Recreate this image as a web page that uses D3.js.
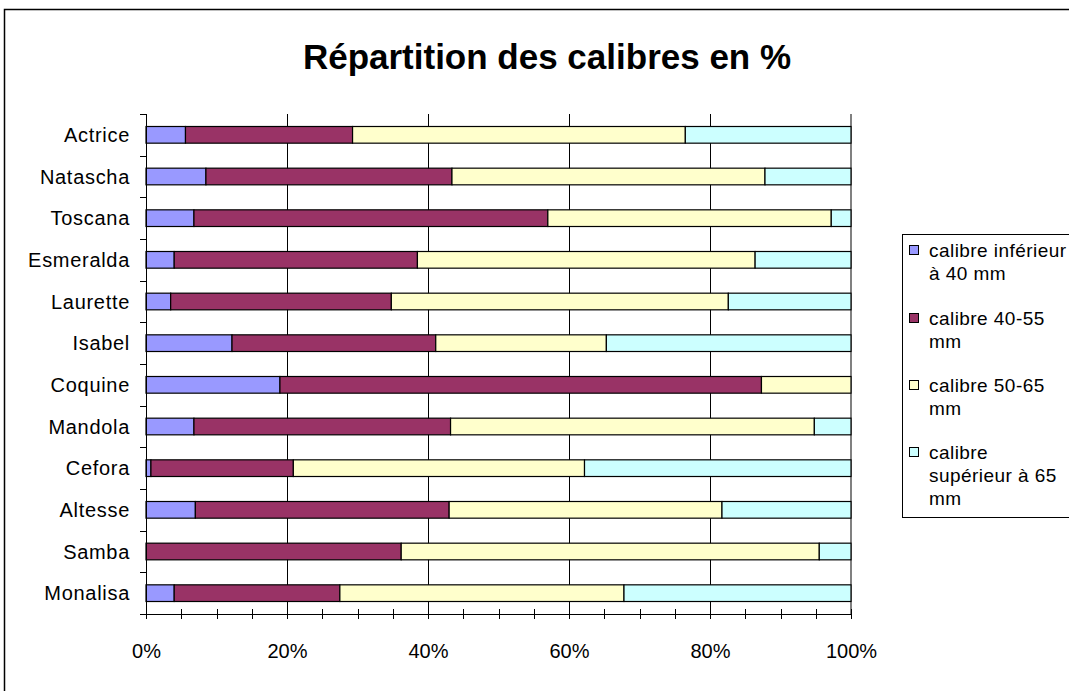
<!DOCTYPE html>
<html>
<head>
<meta charset="utf-8">
<script src="https://cdn.jsdelivr.net/npm/d3@7"></script>
<style>
  body { margin: 0; background: #fff; }
  svg { display: block; font-family: "Liberation Sans", Arial, sans-serif; }
</style>
</head>
<body>
<svg id="chart" width="1069" height="691"></svg>
<script>
// varieties, top to bottom
const varieties = ["Actrice", "Natascha", "Toscana", "Esmeralda", "Laurette", "Isabel",
                   "Coquine", "Mandola", "Cefora", "Altesse", "Samba", "Monalisa"]

const seriesKeys = ["inf40", "c40_55", "c50_65", "sup65"]
const seriesNames = ["calibre inférieur à 40 mm", "calibre 40-55 mm", "calibre 50-65 mm", "calibre supérieur à 65 mm"]
// legend line breaks as they show in the picture
const legendLines = [["calibre inférieur", "à 40 mm"], ["calibre 40-55", "mm"], ["calibre 50-65", "mm"], ["calibre", "supérieur à 65", "mm"]]

// percentages per variety, same order as varieties
const inf40  = [5.6, 8.5, 6.8, 4.0, 3.5, 12.2, 19.0, 6.8, 0.7, 7.0, 0.0, 4.0]
const c40_55 = [23.7, 34.9, 50.2, 34.5, 31.3, 28.9, 68.3, 36.4, 20.2, 36.0, 36.2, 23.5]
const c50_65 = [47.2, 44.4, 40.2, 47.9, 47.8, 24.2, 12.7, 51.6, 41.3, 38.7, 59.3, 40.3]
const sup65  = [23.5, 12.2, 2.8, 13.6, 17.4, 34.7, 0.0, 5.2, 37.8, 18.3, 4.5, 32.2]

const xTicks = [0, 0.2, 0.4, 0.6, 0.8, 1]
const colors = ["#9999FF", "#993366", "#FFFFCC", "#CCFFFF"]

const svg = d3.select("#chart")
const margins = {left: 146, right: 218, top: 114, bottom: 77}
const width = 1069, height = 691

let rows = varieties.map((v, i) => ({
    name: v, inf40: inf40[i], c40_55: c40_55[i], c50_65: c50_65[i], sup65: sup65[i]
}))
let stacked = d3.stack().keys(seriesKeys).offset(d3.stackOffsetExpand)(rows)

let scaleX = d3.scaleLinear().domain([0, 1]).range([margins.left, width - margins.right])
let scaleY = d3.scaleBand().domain(varieties).range([margins.top, height - margins.bottom])
    .paddingInner(0.6).paddingOuter(0.3)
let colorScale = d3.scaleOrdinal().domain(seriesKeys).range(colors)

// outer frame (runs off the right and bottom)
svg.append("rect").attr("x", 4.5).attr("y", 9.5).attr("width", 1100).attr("height", 700)
    .attr("fill", "#fff").attr("stroke", "#000").attr("stroke-width", 1.5)

svg.append("text").attr("x", 547).attr("y", 69).attr("text-anchor", "middle")
    .attr("font-size", 35).attr("font-weight", "bold").text("Répartition des calibres en %")

// vertical gridlines
svg.append("g").selectAll("line")
    .data(xTicks.filter(d => d > 0 && d < 1))
    .join("line")
    .attr("x1", d => Math.round(scaleX(d)) + 0.5).attr("x2", d => Math.round(scaleX(d)) + 0.5)
    .attr("y1", margins.top).attr("y2", height - margins.bottom)
    .attr("stroke", "#000").attr("stroke-width", 1)
svg.append("line")
    .attr("x1", scaleX(1)).attr("x2", scaleX(1))
    .attr("y1", margins.top).attr("y2", height - margins.bottom)
    .attr("stroke", "#808080").attr("stroke-width", 2)

// bars
svg.append("g").selectAll("g")
    .data(stacked)
    .join("g")
    .attr("fill", d => colorScale(d.key))
    .selectAll("rect")
    .data(d => d.filter(p => p[1] - p[0] > 0))
    .join("rect")
    .attr("x", d => scaleX(d[0]))
    .attr("width", d => scaleX(d[1]) - scaleX(d[0]))
    .attr("y", d => scaleY(d.data.name))
    .attr("height", scaleY.bandwidth())
    .attr("stroke", "#000").attr("stroke-width", 1.2)

// y axis: line, ticks between categories, labels
let yAxisG = svg.append("g")
yAxisG.append("line").attr("x1", margins.left + 0.5).attr("x2", margins.left + 0.5)
    .attr("y1", margins.top).attr("y2", height - margins.bottom).attr("stroke", "#000")
let boundaries = d3.range(varieties.length + 1).map(i => margins.top + i * scaleY.step())
yAxisG.selectAll(".ytick").data(boundaries).join("line").attr("class", "ytick")
    .attr("x1", margins.left - 6).attr("x2", margins.left)
    .attr("y1", d => Math.round(d) + 0.5).attr("y2", d => Math.round(d) + 0.5)
    .attr("stroke", "#000")
yAxisG.selectAll("text").data(varieties).join("text")
    .attr("x", 130).attr("y", d => scaleY(d) + scaleY.bandwidth() / 2)
    .attr("dy", "0.36em").attr("text-anchor", "end").attr("font-size", 20)
    .attr("letter-spacing", 0.7)
    .text(d => d)

// x axis with crossing ticks every 5%
let xAxis = d3.axisBottom(scaleX).tickValues(xTicks).tickFormat(d3.format(".0%")).tickSize(0).tickPadding(30)
let xAxisG = svg.append("g").attr("transform", `translate(0, ${height - margins.bottom})`).call(xAxis)
xAxisG.select(".domain").remove()
xAxisG.selectAll("text").attr("font-size", 20).attr("font-family", "Liberation Sans, Arial, sans-serif").attr("fill", "#000")
xAxisG.append("line").attr("x1", margins.left - 6).attr("x2", scaleX(1)).attr("y1", 0.5).attr("y2", 0.5).attr("stroke", "#000")
xAxisG.selectAll(".minor").data(d3.range(0, 1.0001, 0.05)).join("line").attr("class", "minor")
    .attr("x1", d => Math.round(scaleX(d)) + 0.5).attr("x2", d => Math.round(scaleX(d)) + 0.5)
    .attr("y1", -5).attr("y2", 5).attr("stroke", "#000")

// legend
let legend = svg.append("g")
legend.append("rect").attr("x", 902.5).attr("y", 234.5).attr("width", 200).attr("height", 283)
    .attr("fill", "#fff").attr("stroke", "#000")
let entryY = [250, 318, 385, 452]
let entries = legend.selectAll(".entry").data(seriesKeys).join("g").attr("class", "entry")
    .attr("transform", (d, i) => `translate(0, ${entryY[i]})`)
entries.append("rect").attr("x", 909.5).attr("y", -4.5).attr("width", 9).attr("height", 9)
    .attr("fill", d => colorScale(d)).attr("stroke", "#000")
entries.each(function(d, i) {
    d3.select(this).selectAll("text").data(legendLines[i]).join("text")
        .attr("x", 929).attr("y", (t, j) => j * 23).attr("dy", "0.36em")
        .attr("font-size", 19).attr("letter-spacing", 0.45).text(t => t)
})
</script>
</body>
</html>
